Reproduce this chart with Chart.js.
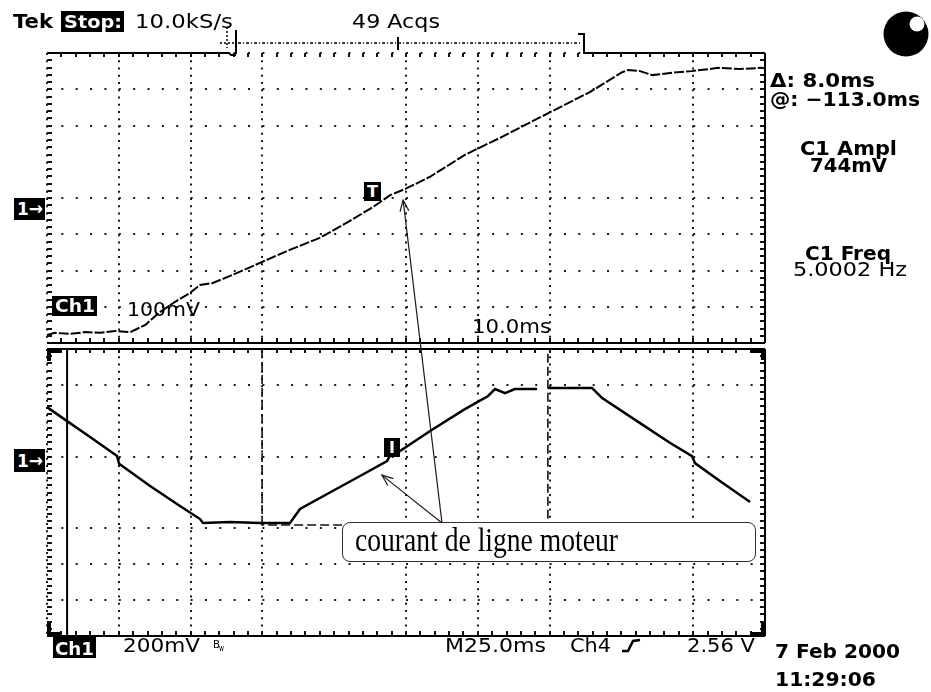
<!DOCTYPE html>
<html><head><meta charset="utf-8">
<script src="https://cdn.jsdelivr.net/npm/chart.js@4.4.1/dist/chart.umd.min.js"></script>
<style>
html,body{margin:0;padding:0;background:#fff;width:931px;height:692px;overflow:hidden}
#wrap{position:relative;width:931px;height:692px;background:#fff}
canvas{position:absolute;left:0}
.t{position:absolute;font-family:"DejaVu Sans",sans-serif;white-space:nowrap;color:#000;transform-origin:0 0;z-index:5}
.box{position:absolute;background:#000;z-index:5;overflow:visible}
#note{position:absolute;left:342px;top:522px;width:412px;height:38px;border:1px solid #3a2a2a;border-radius:8px;background:#fff;z-index:3}
</style></head><body><div id="wrap">
<canvas id="top" width="931" height="346" style="top:0;z-index:1"></canvas>
<canvas id="bot" width="931" height="346" style="top:346px;z-index:1"></canvas>
<div id="note"></div>
<canvas id="ov" width="931" height="692" style="top:0;z-index:4;pointer-events:none"></canvas>
</div>
<script>
// ---- data ----
// upper trace (zoom window, 10 ms/div, 100 mV/div)
const topTimeMs = [0,1.1,3.2,5.3,7.4,9.5,11.6,13.7,15.7,17.8,19.9,21.3,23.0,25.5,29.9,33.8,38.0,42.2,45.4,47.8,49.9,53.3,58.2,63.1,69.9,75.6,80.1,80.9,82.6,84.3,86.8,89.8,93.5,96.5,99.6];
const topCh1mV  = [-378,-372,-375,-370,-372,-367,-370,-350,-315,-287,-262,-240,-235,-215,-177,-143,-110,-63,-25,8,25,58,119,166,235,292,347,353,350,339,345,350,359,356,359];
// lower trace (main, 25 ms/div, 200 mV/div)
const botTimeMs = [0,7.0,15.0,24.4,25.1,35.9,46.3,53.3,54.3,63.7,74.2,84.6,88.1,98.5,109.0,118.4,120.1,122.9,133.4,145.5,153.6,156.0,159.5,162.9,170.6,172.5,174.5,189.8,193.3,206.5,217.0,224.6,225.6,234.3,244.8];
const botCh1mV  = [476,398,309,203,160,36,-75,-148,-170,-164,-170,-170,-92,0,92,175,226,231,343,465,538,577,554,577,577,null,582,582,526,387,276,203,164,64,-53];
// cursors / markers
const botCursorTimesMs = [74.9, 174.4];
const botCursorLevelmV = -181;
const botZoomEdgeMs = 7.0;
const topTrigMarker = [45.4, 17];
const botTrigMarker = [120.0, 251];
const arrowTipTop = [49.6, -6];
const arrowTipBot = [116.6, 97];
// axis ranges
const topTimeRange = [0, 100], topVoltRange = [-400, 400];
const botTimeRange = [0, 250], botVoltRange = [-800, 800];
const topSkipX = [40, 80], topSkipY = [100];
const botSkipX = [100, 200], botSkipY = [0, 400];
// texts
const headerTexts = ['Tek', 'Stop:', '10.0kS/s', '49 Acqs'];
const measTexts = ['\u0394: 8.0ms', '@: \u2212113.0ms', 'C1 Ampl', '744mV', 'C1 Freq', '5.0002 Hz'];
const topScaleTexts = ['Ch1', '100mV', '10.0ms'];
const botScaleTexts = ['Ch1', '200mV', 'M25.0ms', 'Ch4', '2.56 V'];
const dateTexts = ['7 Feb 2000', '11:29:06'];
const noteText = 'courant de ligne moteur';

// ---- helpers ----
const wrap = document.getElementById('wrap');
function fitText(str, x, base, w, o) {
  o = o || {};
  const size = o.size || 20;
  const d = document.createElement('div');
  d.className = 't';
  d.textContent = str;
  d.style.fontSize = size + 'px';
  d.style.lineHeight = size + 'px';
  if (o.font) d.style.fontFamily = o.font;
  if (o.bold) d.style.fontWeight = 'bold';
  if (o.color) d.style.color = o.color;
  const bo = o.baseRatio || 0.846;
  d.style.left = x + 'px';
  d.style.top = (base - size * bo) + 'px';
  (o.parent || wrap).appendChild(d);
  if (w) {
    const nat = d.getBoundingClientRect().width;
    d.style.transform = 'scaleX(' + (w / nat) + ')';
  }
  return d;
}
function invBox(str, x, y, w, h, size, tw, dy) {
  const b = document.createElement('div');
  b.className = 'box';
  b.style.left = x + 'px'; b.style.top = y + 'px';
  b.style.width = w + 'px'; b.style.height = h + 'px';
  wrap.appendChild(b);
  const base = h / 2 + size * 0.73 / 2 + (dy || 0);
  fitText(str, (w - tw) / 2, base, tw, {size: size, color: '#fff', bold: true, parent: b});
  return b;
}
function pts(xs, ys) { return xs.map((x, i) => ({x: x, y: ys[i]})); }

function gridColor(skip) {
  return ctx => (ctx.tick && skip.indexOf(ctx.tick.value) >= 0) ? 'rgba(0,0,0,0)' : '#1a1a1a';
}
function scales(xr, yr, sx, sy) {
  return {
    x: {type: 'linear', min: xr[0], max: xr[1],
        ticks: {display: false, stepSize: (xr[1] - xr[0]) / 10},
        grid: {color: gridColor(sx), lineWidth: 2, drawTicks: false},
        border: {display: false, dash: [2, 5.25]},
        afterFit: s => { s.height = 0; }},
    y: {type: 'linear', min: yr[0], max: yr[1],
        ticks: {display: false, stepSize: (yr[1] - yr[0]) / 8},
        grid: {color: gridColor(sy), lineWidth: 2, drawTicks: false},
        border: {display: false, dash: [2, 12.36]},
        afterFit: s => { s.width = 0; }}
  };
}
// graticule edge minor ticks
function edgeTicks(c, a, sides) {
  const dx = (a.right - a.left) / 50, dy = (a.bottom - a.top) / 40;
  c.save();
  c.strokeStyle = '#111'; c.lineWidth = 2;
  c.beginPath();
  for (let i = 1; i < 50; i++) {
    const x = Math.round(a.left + i * dx);
    if (sides.indexOf('b') >= 0) { c.moveTo(x, a.bottom); c.lineTo(x, a.bottom - 5); }
    if (sides.indexOf('t') >= 0) { c.moveTo(x, a.top); c.lineTo(x, a.top + 4); }
  }
  for (let j = 1; j < 40; j++) {
    const y = Math.round(a.top + j * dy);
    if (sides.indexOf('l') >= 0) { c.moveTo(a.left, y); c.lineTo(a.left + 5, y); }
    if (sides.indexOf('r') >= 0) { c.moveTo(a.right, y); c.lineTo(a.right - 5, y); }
  }
  c.stroke();
  c.restore();
}

const topFrame = {
  id: 'topFrame',
  afterDatasetsDraw(chart) {
    const c = chart.ctx, a = chart.chartArea;
    edgeTicks(c, a, 'tblr');
    c.save();
    c.strokeStyle = '#000'; c.lineWidth = 2;
    c.beginPath();
    c.moveTo(a.left, a.top); c.lineTo(a.left + 182, a.top); c.lineTo(a.left + 184, a.top + 2); c.lineTo(a.left + 189, a.top + 2);
    c.moveTo(a.left + 537, a.top); c.lineTo(a.right, a.top);
    c.moveTo(a.right, a.top); c.lineTo(a.right, a.bottom);
    c.moveTo(a.left, a.bottom); c.lineTo(a.right, a.bottom);
    c.stroke();
    c.restore();
  }
};
const botFrame = {
  id: 'botFrame',
  afterDatasetsDraw(chart) {
    const c = chart.ctx, a = chart.chartArea;
    edgeTicks(c, a, 'tblr');
    c.save();
    c.strokeStyle = '#000'; c.lineWidth = 2;
    c.beginPath();
    c.moveTo(a.left, a.top); c.lineTo(a.right, a.top);
    c.moveTo(a.right, a.top); c.lineTo(a.right, a.bottom);
    c.moveTo(a.left, a.bottom); c.lineTo(a.right, a.bottom);
    c.stroke();
    c.lineWidth = 4;
    c.beginPath();
    c.moveTo(a.left + 2, a.top + 12); c.lineTo(a.left + 2, a.top + 2); c.lineTo(a.left + 13, a.top + 2);
    c.moveTo(a.left + 2, a.bottom - 13); c.lineTo(a.left + 2, a.bottom - 2); c.lineTo(a.left + 13, a.bottom - 2);
    c.moveTo(a.right - 14, a.top + 2); c.lineTo(a.right - 2, a.top + 2); c.lineTo(a.right - 2, a.top + 11);
    c.moveTo(a.right - 14, a.bottom - 2); c.lineTo(a.right - 2, a.bottom - 2); c.lineTo(a.right - 2, a.bottom - 13);
    c.stroke();
    c.restore();
  }
};

const common = {responsive: false, animation: false, devicePixelRatio: 1,
  plugins: {legend: {display: false}, tooltip: {enabled: false}},
  elements: {point: {radius: 0}, line: {tension: 0}}};

const topChart = new Chart(document.getElementById('top'), {
  type: 'line',
  data: {datasets: [
    {data: pts(topTimeMs, topCh1mV), borderColor: '#000', borderWidth: 2, borderDash: [10, 2], spanGaps: false}
  ]},
  options: Object.assign({}, common, {
    layout: {padding: {left: 47, top: 53, right: 166, bottom: 3}},
    scales: scales(topTimeRange, topVoltRange, topSkipX, topSkipY)
  }),
  plugins: [topFrame]
});

const cursorPath = [
  {x: botCursorTimesMs[0], y: botVoltRange[1]}, {x: botCursorTimesMs[0], y: botCursorLevelmV},
  {x: botCursorTimesMs[1], y: botCursorLevelmV}, {x: botCursorTimesMs[1], y: botVoltRange[1]}
];
const botChart = new Chart(document.getElementById('bot'), {
  type: 'line',
  data: {datasets: [
    {data: pts(botTimeMs, botCh1mV), borderColor: '#000', borderWidth: 2.5, spanGaps: false},
    {data: cursorPath, borderColor: '#111', borderWidth: 1.6, borderDash: [9, 4]},
    {data: [{x: botZoomEdgeMs, y: botVoltRange[0]}, {x: botZoomEdgeMs, y: botVoltRange[1]}], borderColor: '#000', borderWidth: 2}
  ]},
  options: Object.assign({}, common, {
    layout: {padding: {left: 47, top: 3, right: 166, bottom: 56}},
    scales: scales(botTimeRange, botVoltRange, botSkipX, botSkipY)
  }),
  plugins: [botFrame]
});

// pixel helpers (page coordinates)
function topPx(p) { return [topChart.scales.x.getPixelForValue(p[0]), topChart.scales.y.getPixelForValue(p[1])]; }
function botPx(p) { return [botChart.scales.x.getPixelForValue(p[0]), 346 + botChart.scales.y.getPixelForValue(p[1])]; }

// ---- texts ----
fitText(headerTexts[0], 13, 28, 40, {bold: true});
invBox(headerTexts[1], 61, 11, 63, 21, 18, 58);
fitText(headerTexts[2], 135, 28, 98);
fitText(headerTexts[3], 352, 28, 88);

fitText(measTexts[0], 770, 87, 105, {bold: true});
fitText(measTexts[1], 770, 106, 150, {bold: true});
fitText(measTexts[2], 800, 155, 97, {bold: true});
fitText(measTexts[3], 810, 172, 77, {bold: true});
fitText(measTexts[4], 805, 260, 86, {bold: true});
fitText(measTexts[5], 793, 276, 114);

invBox(topScaleTexts[0], 52, 296, 45, 20, 18, 40);
fitText(topScaleTexts[1], 127, 316, 73);
fitText(topScaleTexts[2], 472, 333, 79);

invBox('1\u2192', 14, 198, 31, 22, 18, 26);
invBox('1\u2192', 14, 449, 31, 23, 18, 26);

invBox(botScaleTexts[0], 53, 637, 43, 21, 18, 39, 1);
fitText(botScaleTexts[1], 123, 652, 77);
fitText('B', 213, 648, 7, {size: 11});
fitText('w', 219, 652, 5, {size: 8});
fitText(botScaleTexts[2], 445, 652, 101);
fitText(botScaleTexts[3], 570, 652, 41);
fitText(botScaleTexts[4], 687, 652, 68);

fitText(dateTexts[0], 775, 658, 125, {bold: true});
fitText(dateTexts[1], 775, 686, 101, {bold: true});

// note box text
fitText(noteText, 355, 552, 263, {size: 33, font: '"Liberation Serif","Times New Roman",serif', baseRatio: 0.8375});

// markers on traces
(function () {
  const m1 = topPx(topTrigMarker);
  invBox('T', Math.round(m1[0] - 8.5), Math.round(m1[1] - 9.5), 17, 19, 16, 11);
  const m2 = botPx(botTrigMarker);
  invBox('I', Math.round(m2[0] - 8), Math.round(m2[1] - 9.5), 16, 19, 16, 6);
})();

// ---- overlay: arrows, trigger bar, indicator ----
(function () {
  const c = document.getElementById('ov').getContext('2d');
  const note = document.getElementById('note');
  const ax = note.offsetLeft + 100, ay = note.offsetTop + 1;
  function arrow(x0, y0, x1, y1) {
    c.beginPath(); c.moveTo(x0, y0); c.lineTo(x1, y1); c.stroke();
    const ang = Math.atan2(y1 - y0, x1 - x0), L = 12, h = 0.38;
    c.beginPath();
    c.moveTo(x1 - L * Math.cos(ang - h), y1 - L * Math.sin(ang - h));
    c.lineTo(x1, y1);
    c.lineTo(x1 - L * Math.cos(ang + h), y1 - L * Math.sin(ang + h));
    c.stroke();
  }
  c.strokeStyle = '#2a1414'; c.lineWidth = 1.2;
  const t1 = topPx(arrowTipTop), t2 = botPx(arrowTipBot);
  arrow(ax, ay, t1[0], t1[1]);
  arrow(ax, ay, t2[0], t2[1]);

  // trigger / record bar
  c.strokeStyle = '#000';
  c.lineWidth = 1.5;
  c.setLineDash([2, 2]);
  c.beginPath(); c.moveTo(227, 27); c.lineTo(227, 48); c.stroke();
  c.beginPath(); c.moveTo(220, 43); c.lineTo(236, 43); c.stroke();
  c.setLineDash([3, 2, 1, 2]);
  c.beginPath(); c.moveTo(238, 43); c.lineTo(580, 43); c.stroke();
  c.setLineDash([]);
  c.lineWidth = 2;
  c.beginPath(); c.moveTo(236, 30); c.lineTo(236, 54); c.stroke();
  c.beginPath(); c.moveTo(398, 37); c.lineTo(398, 50); c.stroke();
  c.beginPath(); c.moveTo(578, 34); c.lineTo(584, 34); c.lineTo(584, 54); c.stroke();

  // rising-edge trigger slope symbol after "Ch4"
  c.lineWidth = 2.5;
  c.beginPath(); c.moveTo(622, 651); c.lineTo(628, 651); c.lineTo(633, 641); c.lineTo(640, 640); c.stroke();

  // status indicator
  c.fillStyle = '#000';
  c.beginPath(); c.arc(906, 34, 22.5, 0, Math.PI * 2); c.fill();
  c.fillStyle = '#fff';
  c.beginPath(); c.arc(917, 24, 7.5, 0, Math.PI * 2); c.fill();
})();
</script>
</body></html>
